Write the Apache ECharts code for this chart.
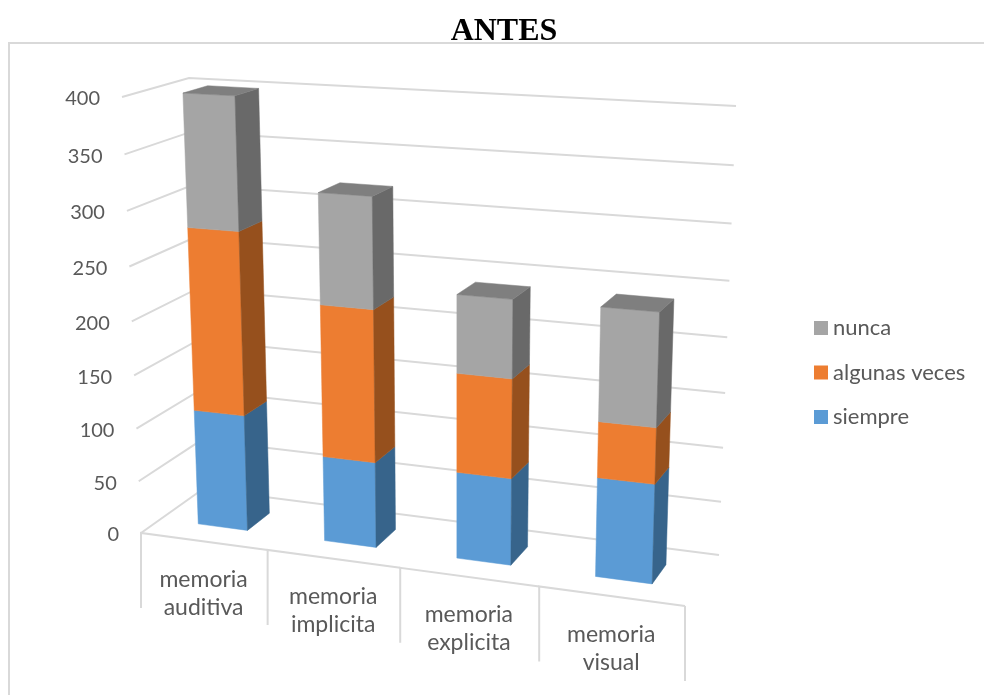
<!DOCTYPE html>
<html>
<head>
<meta charset="utf-8">
<style>html,body{margin:0;padding:0;background:#fff}#c{width:984px;height:695px}</style>
<script src="https://cdn.jsdelivr.net/npm/echarts@6/dist/echarts.min.js"></script>
</head>
<body>
<div id="c"></div>
<script>
var categories = ['memoria\nauditiva', 'memoria\nimplicita', 'memoria\nexplicita', 'memoria\nvisual'];
var siempre = [110, 80, 80, 90];
var algunasVeces = [170, 140, 90, 50];
var nunca = [120, 100, 70, 100];
var yTicks = [0, 50, 100, 150, 200, 250, 300, 350, 400];

function homography(p) {
  var x0=p[0][0],y0=p[0][1],x1=p[1][0],y1=p[1][1],x2=p[2][0],y2=p[2][1],x3=p[3][0],y3=p[3][1];
  var dx1=x1-x2,dx2=x3-x2,sx=x0-x1+x2-x3,dy1=y1-y2,dy2=y3-y2,sy=y0-y1+y2-y3;
  var den=dx1*dy2-dx2*dy1;
  var g=(sx*dy2-dx2*sy)/den,h=(dx1*sy-sx*dy1)/den;
  var a=x1-x0+g*x1,b=x3-x0+h*x3,d=y1-y0+g*y1,e=y3-y0+h*y3;
  return function(u,v){var q=g*u+h*v+1;return [(a*u+b*v+x0)/q,(d*u+e*v+y0)/q];};
}
// (u,v) unit square: u along categories, v along the value axis
var frontPlane = homography([[141,533],[685,606],[700,129],[122,97]]);
var backPlane = homography([[203,489],[719,555],[736,106],[189,78]]);
function project(u,v,w){
  var f=frontPlane(u,v),b=backPlane(u,v);
  return [f[0]+(b[0]-f[0])*w,f[1]+(b[1]-f[1])*w];
}
function unit(api,params,cat,val,off){
  var cs=params.coordSys,p=api.coord([cat,val]),band=api.size([1,0])[0];
  return [(p[0]+(off||0)*band-cs.x)/cs.width,1-(p[1]-cs.y)/cs.height];
}
var BAR_L=-0.195,BAR_R=0.2,W0=0.32,W1=0.7;

function barRender(front,side,top){
  return function(params,api){
    var c=api.value(0),s=api.value(1),e=api.value(2);
    var a=unit(api,params,c,s,BAR_L),b=unit(api,params,c,e,BAR_R);
    var u0=a[0],u1=b[0],v0=a[1],v1=b[1];
    function poly(pts,col){
      return {type:'polygon',shape:{points:pts},style:{fill:col,stroke:col,lineWidth:0.5}};
    }
    var ch=[
      poly([project(u0,v0,W0),project(u1,v0,W0),project(u1,v1,W0),project(u0,v1,W0)],front),
      poly([project(u1,v0,W0),project(u1,v0,W1),project(u1,v1,W1),project(u1,v1,W0)],side)
    ];
    if(top){ch.push(poly([project(u0,v1,W0),project(u1,v1,W0),project(u1,v1,W1),project(u0,v1,W1)],top));}
    return {type:'group',children:ch};
  };
}
var LINE={stroke:'#d9d9d9',lineWidth:2,fill:null};
function wallRender(params,api){
  var t=api.value(0),v=unit(api,params,0,t)[1];
  var lab=project(0,v,0);
  return {type:'group',children:[
    {type:'polyline',shape:{points:[project(0,v,0),project(0,v,1),project(1,v,1)]},style:LINE},
    {type:'text',style:{text:String(t),x:lab[0]-22,y:lab[1]+2,align:'right',verticalAlign:'middle',fill:'#595959',font:'20px Lato, sans-serif'}}
  ]};
}
function catRender(params,api){
  var c=api.value(0);
  var left=unit(api,params,c,0,-0.5),right=unit(api,params,c,0,0.5);
  var v0=left[1];
  var pl=project(left[0],v0,0),pr=project(right[0],v0,0),pm=project((left[0]+right[0])/2,v0,0);
  var ch=[
    {type:'polyline',shape:{points:[[pl[0],pl[1]+75],pl,pr]},style:LINE},
    {type:'text',style:{text:categories[c],x:pm[0],y:pm[1]+52,align:'center',verticalAlign:'middle',fill:'#595959',font:'23px Lato, sans-serif',lineHeight:28}}
  ];
  if(c===categories.length-1){ch.push({type:'polyline',shape:{points:[pr,[pr[0],pr[1]+75]]},style:LINE});}
  return {type:'group',children:ch};
}
var baseAlg=siempre.map(function(v,i){return v+algunasVeces[i];});
var dSiempre=siempre.map(function(v,i){return [i,0,v];});
var dAlg=algunasVeces.map(function(v,i){return [i,siempre[i],baseAlg[i]];});
var dNunca=nunca.map(function(v,i){return [i,baseAlg[i],baseAlg[i]+v];});

var chart=echarts.init(document.getElementById('c'),null,{renderer:'canvas'});
chart.setOption({
  animation:false,
  backgroundColor:'#fff',
  title:{text:'ANTES',left:499,top:11,textAlign:'center',textStyle:{fontFamily:'Liberation Serif',fontWeight:'bold',fontSize:32,color:'#000'}},
  graphic:[{type:'polyline',shape:{points:[[9,695],[9,43],[984,43]]},style:{stroke:'#d9d9d9',lineWidth:2,fill:null},z:-1}],
  legend:{data:['nunca','algunas veces','siempre'],orient:'vertical',left:809,top:312,icon:'rect',itemWidth:14,itemHeight:14,itemGap:22.5,selectedMode:false,
    textStyle:{fontFamily:'Lato',fontSize:22,color:'#595959'}},
  grid:{left:100,top:100,width:400,height:400},
  xAxis:{type:'category',data:categories,show:false},
  yAxis:{type:'value',min:0,max:400,interval:50,show:false},
  series:[
    {type:'custom',name:'ejes',silent:true,z:1,data:yTicks.map(function(t){return [t];}),encode:{y:0},renderItem:wallRender},
    {type:'custom',name:'categorias',silent:true,z:1,data:categories.map(function(c,i){return [i];}),encode:{x:0},renderItem:catRender},
    {type:'custom',name:'siempre',z:2,itemStyle:{color:'#5B9BD5'},data:dSiempre,encode:{x:0,y:[1,2]},renderItem:barRender('#5B9BD5','#37648B',null)},
    {type:'custom',name:'algunas veces',z:3,itemStyle:{color:'#ED7D31'},data:dAlg,encode:{x:0,y:[1,2]},renderItem:barRender('#ED7D31','#96501D',null)},
    {type:'custom',name:'nunca',z:4,itemStyle:{color:'#A5A5A5'},data:dNunca,encode:{x:0,y:[1,2]},renderItem:barRender('#A5A5A5','#696969','#7F7F7F')}
  ]
});
</script>
</body>
</html>
